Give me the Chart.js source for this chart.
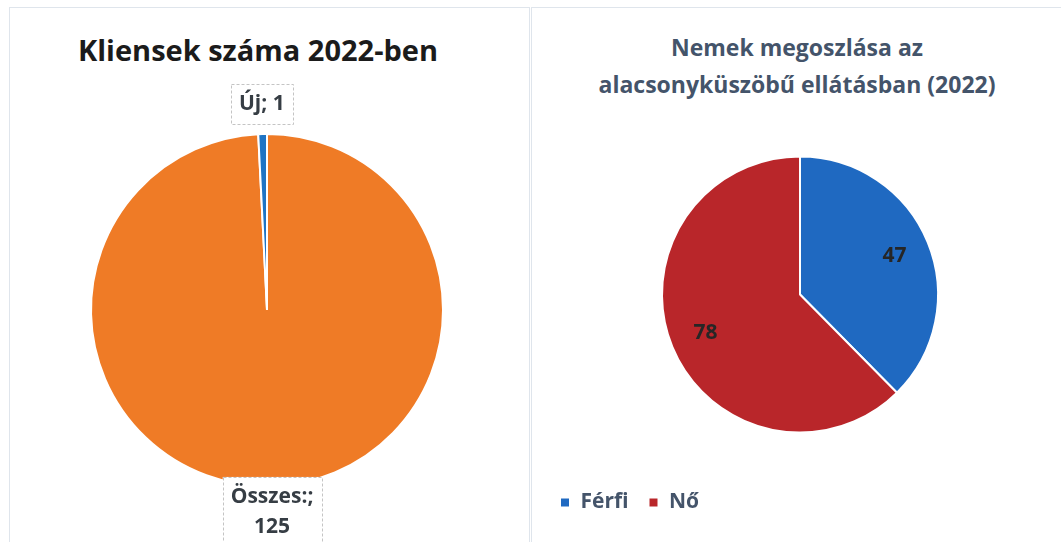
<!DOCTYPE html>
<html lang="hu">
<head>
<meta charset="utf-8">
<script src="https://cdn.jsdelivr.net/npm/chart.js@4.4.1/dist/chart.umd.min.js"></script>
<style>
    body {
        margin: 0;
        width: 1061px;
        height: 542px;
        background: #fff;
        position: relative;
        overflow: hidden;
        font-family: 'Open Sans', sans-serif;
    }

    .panel {
        position: absolute;
        border: 1px solid #dfe5ec;
        box-sizing: border-box;
    }

    .wrap {
        position: absolute;
    }

    .title {
        position: absolute;
        text-align: center;
        font-weight: 700;
        white-space: pre;
    }
</style>
</head>
<body>
<div class="panel" style="left:9px;top:7px;width:521px;height:560px"></div>
<div class="panel" style="left:531px;top:7px;width:560px;height:560px"></div>

<div class="title" id="clientTitle" style="left:0;width:516px;top:32px;font-size:29px;line-height:36px;color:#1b1b1b"></div>
<div class="title" id="genderTitle" style="left:547px;width:500px;top:29px;font-size:23px;line-height:37px;color:#44546a"></div>

<div class="wrap" style="left:9px;top:8px;width:520px;height:534px"><canvas id="clientChart"></canvas></div>
<div class="wrap" style="left:532px;top:8px;width:529px;height:534px"><canvas id="genderChart"></canvas></div>

<script>
// Adatok
const clientTitle = 'Kliensek száma 2022-ben';
const clientLabels = ['Összes:', 'Új'];
const clientValues = [125, 1];

const genderTitle = ['Nemek megoszlása az', 'alacsonyküszöbű ellátásban (2022)'];
const genderLabels = ['Férfi', 'Nő'];
const genderValues = [47, 78];

document.getElementById('clientTitle').textContent = clientTitle;
document.getElementById('genderTitle').textContent = genderTitle.join('\n');

const FONT = "'Open Sans', sans-serif";

// Címkék dobozban a szeletek külső végén (bal oldali diagram)
const boxedLabels = {
    id: 'boxedLabels',
    afterDatasetsDraw(chart, args, opts) {
        const ctx = chart.ctx;
        const meta = chart.getDatasetMeta(0);
        const values = chart.data.datasets[0].data;
        ctx.save();
        ctx.font = `700 ${opts.size}px ${FONT}`;
        meta.data.forEach((arc, i) => {
            const p = arc.getProps(['x', 'y', 'startAngle', 'endAngle', 'outerRadius'], true);
            const mid = (p.startAngle + p.endAngle) / 2;
            const label = chart.data.labels[i];
            let lines = [`${label}; ${values[i]}`];
            if (ctx.measureText(lines[0]).width > opts.maxWidth) {
                lines = [`${label};`, `${values[i]}`];
            }
            const w = Math.max(...lines.map((l) => ctx.measureText(l).width)) + opts.padX * 2;
            const h = lines.length * opts.lineHeight + opts.padY * 2;
            const dist = p.outerRadius + opts.offsets[i];
            const cx = p.x + Math.cos(mid) * dist;
            const cy = p.y + Math.sin(mid) * dist;

            ctx.fillStyle = '#fff';
            ctx.fillRect(cx - w / 2, cy - h / 2, w, h);
            ctx.strokeStyle = '#c4c4c4';
            ctx.lineWidth = 1;
            ctx.setLineDash([3, 2]);
            ctx.strokeRect(Math.round(cx - w / 2) + 0.5, Math.round(cy - h / 2) + 0.5, Math.round(w), Math.round(h));
            ctx.setLineDash([]);

            ctx.fillStyle = opts.color;
            ctx.textAlign = 'center';
            ctx.textBaseline = 'middle';
            lines.forEach((l, k) => {
                ctx.fillText(l, cx, cy - h / 2 + opts.padY + opts.lineHeight * (k + 0.5));
            });
        });
        ctx.restore();
    },
};

// Értékek a szeleteken belül (jobb oldali diagram)
const innerLabels = {
    id: 'innerLabels',
    afterDatasetsDraw(chart, args, opts) {
        const ctx = chart.ctx;
        const meta = chart.getDatasetMeta(0);
        const values = chart.data.datasets[0].data;
        ctx.save();
        ctx.font = `700 ${opts.size}px ${FONT}`;
        ctx.fillStyle = opts.color;
        ctx.textAlign = 'center';
        ctx.textBaseline = 'middle';
        meta.data.forEach((arc, i) => {
            const p = arc.getProps(['x', 'y', 'startAngle', 'endAngle', 'outerRadius'], true);
            const mid = (p.startAngle + p.endAngle) / 2;
            const dist = p.outerRadius * opts.ratio;
            ctx.fillText(String(values[i]), p.x + Math.cos(mid) * dist, p.y + Math.sin(mid) * dist);
        });
        ctx.restore();
    },
};

new Chart(document.getElementById('clientChart'), {
    type: 'pie',
    data: {
        labels: clientLabels,
        datasets: [
            {
                data: clientValues,
                backgroundColor: ['#ef7b26', '#1f74c4'],
                borderColor: '#fff',
                borderWidth: 2,
                radius: 176,
            },
        ],
    },
    options: {
        responsive: true,
        maintainAspectRatio: false,
        animation: false,
        layout: {
            padding: { top: 126, bottom: 56, left: 0, right: 4 },
        },
        plugins: {
            legend: { display: false },
            tooltip: { enabled: false },
            boxedLabels: {
                size: 21,
                lineHeight: 30,
                padX: 8,
                padY: 5,
                maxWidth: 90,
                offsets: [26, 30],
                color: '#363d44',
            },
        },
    },
    plugins: [boxedLabels],
});

new Chart(document.getElementById('genderChart'), {
    type: 'pie',
    data: {
        labels: genderLabels,
        datasets: [
            {
                data: genderValues,
                backgroundColor: ['#1f69c1', '#b9262a'],
                borderColor: '#fff',
                borderWidth: 2,
                radius: 138,
            },
        ],
    },
    options: {
        responsive: true,
        maintainAspectRatio: false,
        animation: false,
        layout: {
            padding: { top: 109, bottom: 19, left: 8, right: 1 },
        },
        plugins: {
            legend: {
                display: true,
                position: 'bottom',
                align: 'start',
                labels: {
                    boxWidth: 10,
                    boxHeight: 10,
                    padding: 20,
                    color: '#44546a',
                    font: { family: FONT, size: 21, weight: '700' },
                },
            },
            tooltip: { enabled: false },
            innerLabels: {
                size: 21,
                ratio: 0.74,
                color: '#262626',
            },
        },
    },
    plugins: [innerLabels],
});
</script>
</body>
</html>
